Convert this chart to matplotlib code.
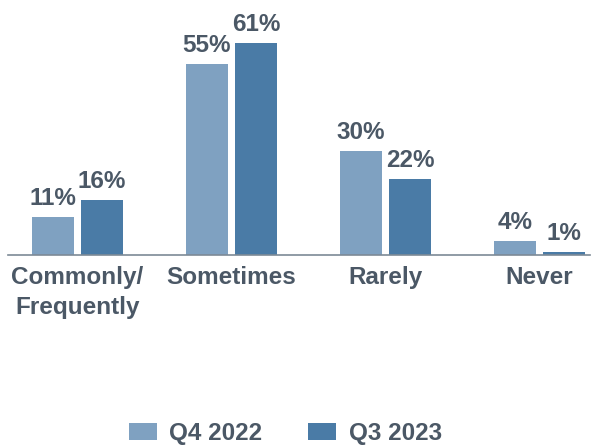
import matplotlib
matplotlib.use('Agg')
import matplotlib.pyplot as plt
import numpy as np

categories = ['Commonly/\nFrequently', 'Sometimes', 'Rarely', 'Never']
q4_2022 = [11, 55, 30, 4]
q3_2023 = [16, 61, 22, 1]
series_names = ['Q4 2022', 'Q3 2023']

light = '#7fa1c1'
dark = '#4a7ba6'
text_col = '#4b5866'

plt.rcParams['font.family'] = ['Liberation Sans', 'DejaVu Sans']

fig = plt.figure(figsize=(5.92, 4.46), dpi=100)
ax = fig.add_axes([8/592, 0.428, 582/592, 0.545])

x = np.arange(len(categories))
w = 0.273
off = 0.159
b1 = ax.bar(x - off, q4_2022, w, color=light, label=series_names[0])
b2 = ax.bar(x + off, q3_2023, w, color=dark, label=series_names[1])

for bars in (b1, b2):
    ax.bar_label(bars, labels=[f'{v:.0f}%' for v in bars.datavalues], padding=5,
                 fontsize=17.5, fontweight='bold', color=text_col)

ax.set_xlim(-0.451, 3.328)
ax.set_ylim(0, 70)
ax.set_xticks(x)
ax.set_xticklabels(categories, fontsize=17.5, fontweight='bold', color=text_col,
                   linespacing=1.4)
ax.tick_params(axis='x', length=0, pad=8)
ax.set_yticks([])
for s in ['top', 'right', 'left']:
    ax.spines[s].set_visible(False)
ax.spines['bottom'].set_color('#7d8a96')
ax.spines['bottom'].set_linewidth(1.2)

leg = fig.legend(handles=[b1, b2], loc='center', bbox_to_anchor=(0.482, 0.028),
                 ncol=2, frameon=False, fontsize=17.5, handlelength=1.15,
                 handleheight=0.75, columnspacing=1.9, handletextpad=0.5,
                 borderpad=0)
for t in leg.get_texts():
    t.set_color(text_col)
    t.set_fontweight('bold')

fig.savefig('out.png', dpi=100)
